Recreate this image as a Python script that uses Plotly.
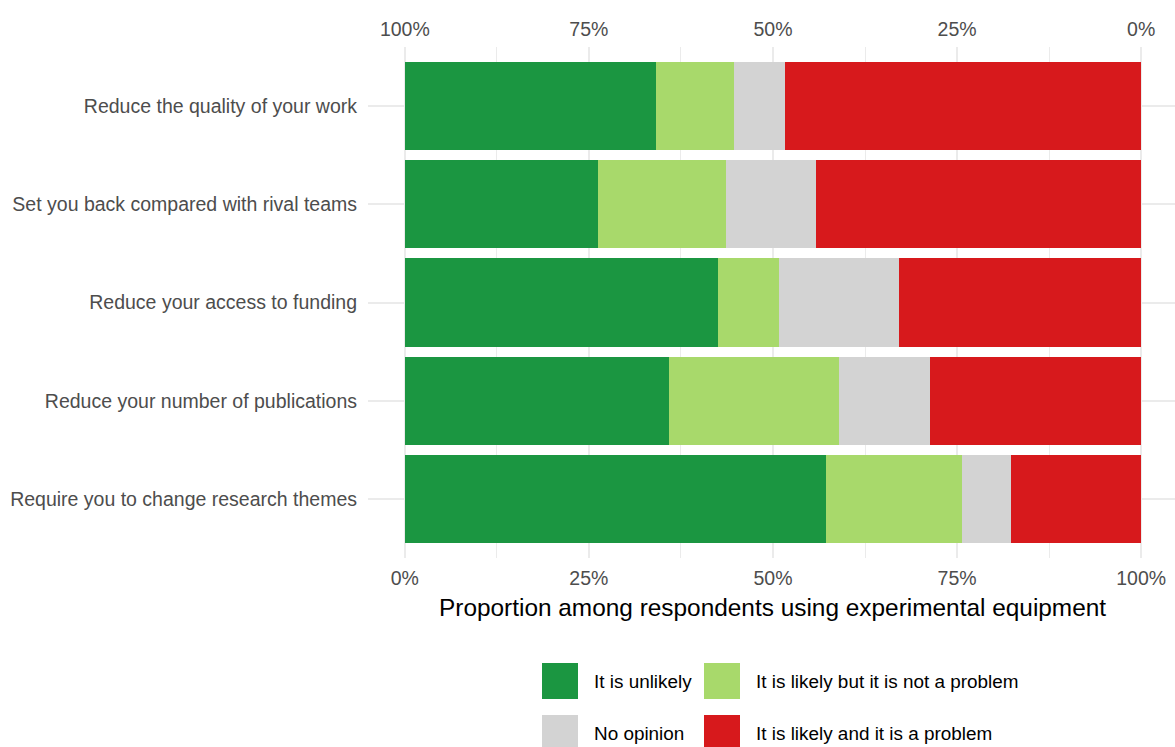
import plotly.graph_objects as go

# ---------------- data ----------------
questions = [
    "Reduce the quality of your work",
    "Set you back compared with rival teams",
    "Reduce your access to funding",
    "Reduce your number of publications",
    "Require you to change research themes",
]
series_names = [
    "It is unlikely",
    "It is likely but it is not a problem",
    "No opinion",
    "It is likely and it is a problem",
]
unlikely = [34.1, 26.2, 42.5, 35.9, 57.2]
likely_ok = [10.6, 17.4, 8.3, 23.1, 18.5]
no_opinion = [6.9, 12.2, 16.3, 12.3, 6.6]
likely_problem = [48.4, 44.2, 32.9, 28.7, 17.7]

tick_values = [0, 25, 50, 75, 100]
bottom_tick_labels = ["0%", "25%", "50%", "75%", "100%"]
top_tick_values = [100, 75, 50, 25, 0]
top_tick_labels = ["100%", "75%", "50%", "25%", "0%"]
minor_values = [12.5, 37.5, 62.5, 87.5]

# ---------------- style ----------------
colors = ["#1b9641", "#a8d96b", "#d3d3d3", "#d7191c"]
FONT = "Liberation Sans, Arial, sans-serif"
W, H = 1175, 747
ML, MR, MT, MB = 368, 0, 47, 189
PW, PH = W - ML - MR, H - MT - MB

fig = go.Figure()
for name, vals, col in zip(series_names,
                           [unlikely, likely_ok, no_opinion, likely_problem],
                           colors):
    fig.add_trace(go.Bar(
        y=questions, x=vals, name=name, orientation="h",
        marker=dict(color=col, line=dict(width=0)),
        width=0.9, showlegend=False,
    ))

# invisible helper trace for the top axis
fig.add_trace(go.Scatter(x=[None], y=[questions[0]], xaxis="x2",
                         mode="markers", showlegend=False, hoverinfo="skip"))

x_range = [-5, -5 + 109.6]

fig.update_layout(
    width=W, height=H,
    margin=dict(l=ML, r=MR, t=MT, b=MB, pad=0),
    paper_bgcolor="white", plot_bgcolor="white",
    barmode="stack", bargap=0.1,
    font=dict(family=FONT, size=19.5, color="#4d4d4d"),
    showlegend=False,
    xaxis=dict(
        range=x_range, tickvals=tick_values, ticktext=bottom_tick_labels,
        showgrid=True, gridcolor="#ebebeb", gridwidth=2,
        zeroline=False, showline=False, ticks="",
        tickfont=dict(size=19.5, color="#4d4d4d"),
        ticklabelstandoff=6,
        minor=dict(tickvals=minor_values, showgrid=True,
                   gridcolor="#ebebeb", gridwidth=1),
    ),
    xaxis2=dict(
        overlaying="x", side="top",
        range=[100 - x_range[0], 100 - x_range[1]],
        tickvals=top_tick_values, ticktext=top_tick_labels,
        showgrid=False, zeroline=False, showline=False, ticks="",
        tickfont=dict(size=19.5, color="#4d4d4d"),
        ticklabelstandoff=6,
    ),
    yaxis=dict(
        categoryorder="array", categoryarray=questions,
        range=[len(questions) - 0.4, -0.6],
        showgrid=True, gridcolor="#ebebeb", gridwidth=2,
        zeroline=False, showline=False, ticks="",
        tickfont=dict(size=19.5, color="#4d4d4d"),
        ticklabelstandoff=10,
    ),
)

# axis title
fig.add_annotation(
    text="Proportion among respondents using experimental equipment",
    xref="x", yref="paper", x=50, y=(MT + PH - 607) / PH,
    showarrow=False, xanchor="center", yanchor="middle",
    font=dict(family=FONT, size=24.4, color="black"),
)

# manual legend (big square keys like the reference)
def px_x(p):
    return (p - ML) / PW

def px_y(p):
    return (MT + PH - p) / PH

key_size = 36
key_lefts = [542, 704]
text_lefts = [592, 754]
row_tops = [663, 715]
for i, (name, col) in enumerate(zip(series_names, colors)):
    r, c = divmod(i, 2)
    x0, y0 = key_lefts[c], row_tops[r]
    fig.add_shape(type="rect", xref="paper", yref="paper",
                  x0=px_x(x0), x1=px_x(x0 + key_size),
                  y0=px_y(y0 + key_size), y1=px_y(y0),
                  fillcolor=col, line=dict(width=0), layer="above")
    fig.add_annotation(text=name, xref="paper", yref="paper",
                       x=px_x(text_lefts[c]), y=px_y(y0 + key_size / 2),
                       xanchor="left", yanchor="middle", showarrow=False,
                       font=dict(family=FONT, size=18.9, color="black"))

fig.write_html(
    "out.html",
    config={"displayModeBar": False},
    post_script="document.body.style.margin='0px';"
                "document.body.style.overflow='hidden';",
)
